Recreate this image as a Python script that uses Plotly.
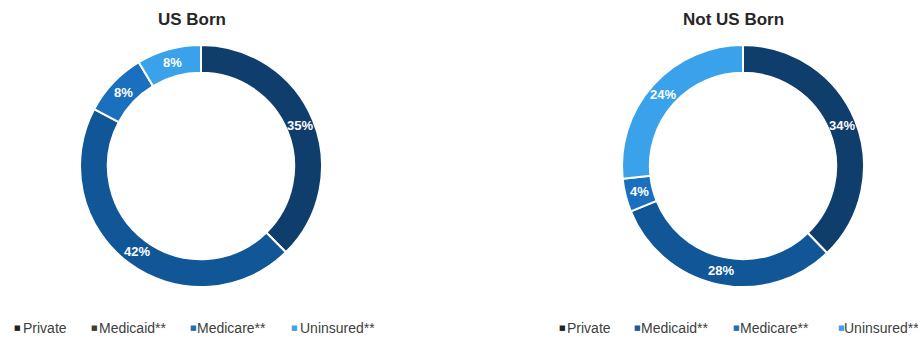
import math
import plotly.graph_objects as go

# Coverage categories and shares (%) for each group
categories = ["Private", "Medicaid**", "Medicare**", "Uninsured**"]
us_born = [35, 42, 8, 8]
not_us_born = [34, 28, 4, 24]
titles = ["US Born", "Not US Born"]

slice_colors = ["#0f3e6d", "#115797", "#1b6fbf", "#3aa1eb"]
legend_marker_colors = [
    ["#222222", "#3c3c3c", "#1f6fb8", "#3ba3ec"],
    ["#222222", "#1a5a9a", "#1f6fb8", "#3ba3ec"],
]

W, H = 918, 339
HOLE = 0.77
LABEL_FONT = dict(family="Liberation Sans, Arial", size=13, color="white")

fig = go.Figure()

# Pixel geometry of each donut: centre and outer radius
donuts = [
    dict(cx=201, cy=166, r=121),
    dict(cx=743, cy=166, r=121),
]

annotations = []

for values, g in zip([us_born, not_us_born], donuts):
    dom = dict(
        x=[(g["cx"] - g["r"]) / W, (g["cx"] + g["r"]) / W],
        y=[1 - (g["cy"] + g["r"]) / H, 1 - (g["cy"] - g["r"]) / H],
    )
    fig.add_trace(go.Pie(
        labels=categories,
        values=values,
        domain=dom,
        hole=HOLE,
        sort=False,
        direction="clockwise",
        rotation=0,
        marker=dict(colors=slice_colors, line=dict(color="white", width=2)),
        textinfo="none",
        showlegend=False,
        hoverinfo="label+value",
    ))

    # Value labels centred in the ring at each slice's mid-angle
    total = sum(values)
    ring_mid = g["r"] * (1 + HOLE) / 2
    start = 0.0
    for v in values:
        mid = (start + v / 2) / total * 2 * math.pi
        start += v
        px = g["cx"] + ring_mid * math.sin(mid)
        py = g["cy"] - ring_mid * math.cos(mid)
        annotations.append(dict(
            x=px / W, y=1 - py / H, xref="paper", yref="paper",
            text=f"<b>{v}%</b>", showarrow=False,
            xanchor="center", yanchor="middle", font=LABEL_FONT,
        ))

# Titles above each donut
for title, cx in zip(titles, [192, 733]):
    annotations.append(dict(
        x=cx / W, y=1 - 20 / H, xref="paper", yref="paper",
        text=f"<b>{title}</b>", showarrow=False,
        xanchor="center", yanchor="middle",
        font=dict(family="Liberation Sans, Arial", size=17, color="#262626"),
    ))

# Custom legend rows under each donut: (marker x, label x) in pixels
legend_pos = [
    [(12, 21), (89, 97), (188, 195), (289, 298)],
    [(557, 565), (632, 639), (731, 738), (836, 842)],
]
legend_y = 1 - 328 / H
for row, row_colors in zip(legend_pos, legend_marker_colors):
    for name, (mx, tx), col in zip(categories, row, row_colors):
        annotations.append(dict(
            x=mx / W, y=legend_y, xref="paper", yref="paper",
            text="■", showarrow=False, xanchor="left", yanchor="middle",
            font=dict(family="DejaVu Sans", size=7, color=col),
        ))
        annotations.append(dict(
            x=tx / W, y=legend_y, xref="paper", yref="paper",
            text=name, showarrow=False, xanchor="left", yanchor="middle",
            font=dict(family="Liberation Sans, Arial", size=14, color="#404040"),
        ))

fig.update_layout(
    width=W, height=H,
    margin=dict(l=0, r=0, t=0, b=0),
    paper_bgcolor="white", plot_bgcolor="white",
    annotations=annotations,
)

fig.write_html("out.html")
